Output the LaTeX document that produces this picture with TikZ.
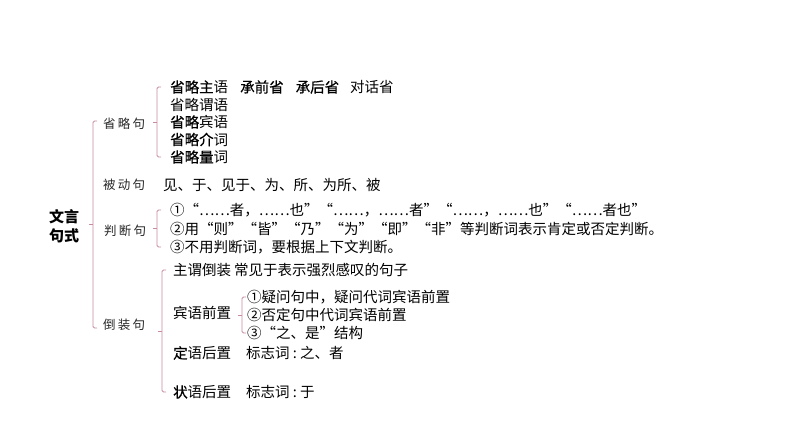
\documentclass[tikz,border=0pt]{standalone}
\usepackage{fontspec}
\setmainfont{Noto Sans CJK SC}
\newfontfamily\quanjiao{Noto Sans CJK SC}[RawFeature=+fwid]
\newfontfamily\kaiti{Noto Sans CJK SC}[LetterSpace=18]
\newfontfamily\jiacu{Noto Sans CJK SC}[FakeBold=0.5]
\usepackage{xcolor}
\usepackage{tikz}
\definecolor{bracketpink}{RGB}{200,138,158}
\usetikzlibrary{calc, positioning}

% bracket from first child to last child
\newcommand{\kuohao}[4]{%
  \draw[brace] ($(#1.west)+(4-#3,-#4)$) -- ($(#1.west)+(-#3,-#4)$)
    -- ($(#2.west)+(-#3,#4)$) -- ++(4,0);
  \draw[brace] ($(#1.west)!0.5!(#2.west)+(-#3,0)$) -- ++(-4,0);
}

\begin{document}
\begin{tikzpicture}[
    x=1pt, y=-1pt,
    item/.style={anchor=west, inner sep=0pt, font=\fontsize{14.5}{17}\selectfont},
    cat/.style={anchor=west, inner sep=0pt, font=\kaiti\fontsize{12.5}{14}\selectfont, text=black!85},
    brace/.style={draw=bracketpink, line width=0.9pt, rounded corners=1.5pt}
]
    \useasboundingbox (0,0) rectangle (794,447);

    \node[align=center, inner sep=0pt, font=\bfseries\fontsize{15}{19}\selectfont] (wenyan) at (64,226) {文言\\句式};

    \node[cat] (shenglue) at (103,124) {省略句};
    \node[cat] (beidong) at (103,185) {被动句};
    \node[cat] (panduan) at (104,231) {判断句};
    \node[cat] (daozhuang) at (103,325) {倒装句};

    % shenglue
    \node[item] (s1) at (170,87) {{\jiacu 省略主}语\hspace{12pt}{\jiacu 承前省}\hspace{12pt}{\jiacu 承后省}\hspace{11pt}对话省};
    \node[item] (s2) at (170,104.5) {省略谓语};
    \node[item] (s3) at (170,122) {{\jiacu 省略}宾语};
    \node[item] (s4) at (170,139.5) {{\jiacu 省略介}词};
    \node[item] (s5) at (170,157) {{\jiacu 省略量}词};

    % beidong
    \node[item] (b0) at (163,185) {见、于、见于、为、所、为所、被};

    % panduan
    \node[item, font=\quanjiao\fontsize{14.5}{17}\selectfont] (p1) at (170,210) {①“……者，……也”“……，……者”“……，……也”“……者也”};
    \node[item, font=\quanjiao\fontsize{14.5}{17}\selectfont] (p2) at (170,228.5) {②用“则”“皆”“乃”“为”“即”“非”等判断词表示肯定或否定判断。};
    \node[item, font=\quanjiao\fontsize{14.5}{17}\selectfont] (p3) at (170,247) {③不用判断词，要根据上下文判断。};

    % daozhuang
    \node[item] (d1) at (173,270) {主谓倒装\hspace{3pt}常见于表示强烈感叹的句子};
    \node[item] (d2) at (173,313) {宾语前置};
    \node[item] (d3) at (173,353) {{\jiacu 定}语后置\hspace{15pt}标志词~:~之、者};
    \node[item] (d4) at (173,392) {{\jiacu 状}语后置\hspace{15pt}标志词~:~于};

    \node[item, font=\quanjiao\fontsize{14.5}{17}\selectfont] (q1) at (247,297) {①疑问句中，疑问代词宾语前置};
    \node[item, font=\quanjiao\fontsize{14.5}{17}\selectfont] (q2) at (247,315) {②否定句中代词宾语前置};
    \node[item, font=\quanjiao\fontsize{14.5}{17}\selectfont] (q3) at (247,333) {③“之、是”结构};

    \kuohao{shenglue}{daozhuang}{10}{3}
    \kuohao{s1}{s5}{13}{0}
    \kuohao{p1}{p3}{13}{0}
    \kuohao{d1}{d4}{11}{0}
    \kuohao{q1}{q3}{5}{0}
\end{tikzpicture}
\end{document}
